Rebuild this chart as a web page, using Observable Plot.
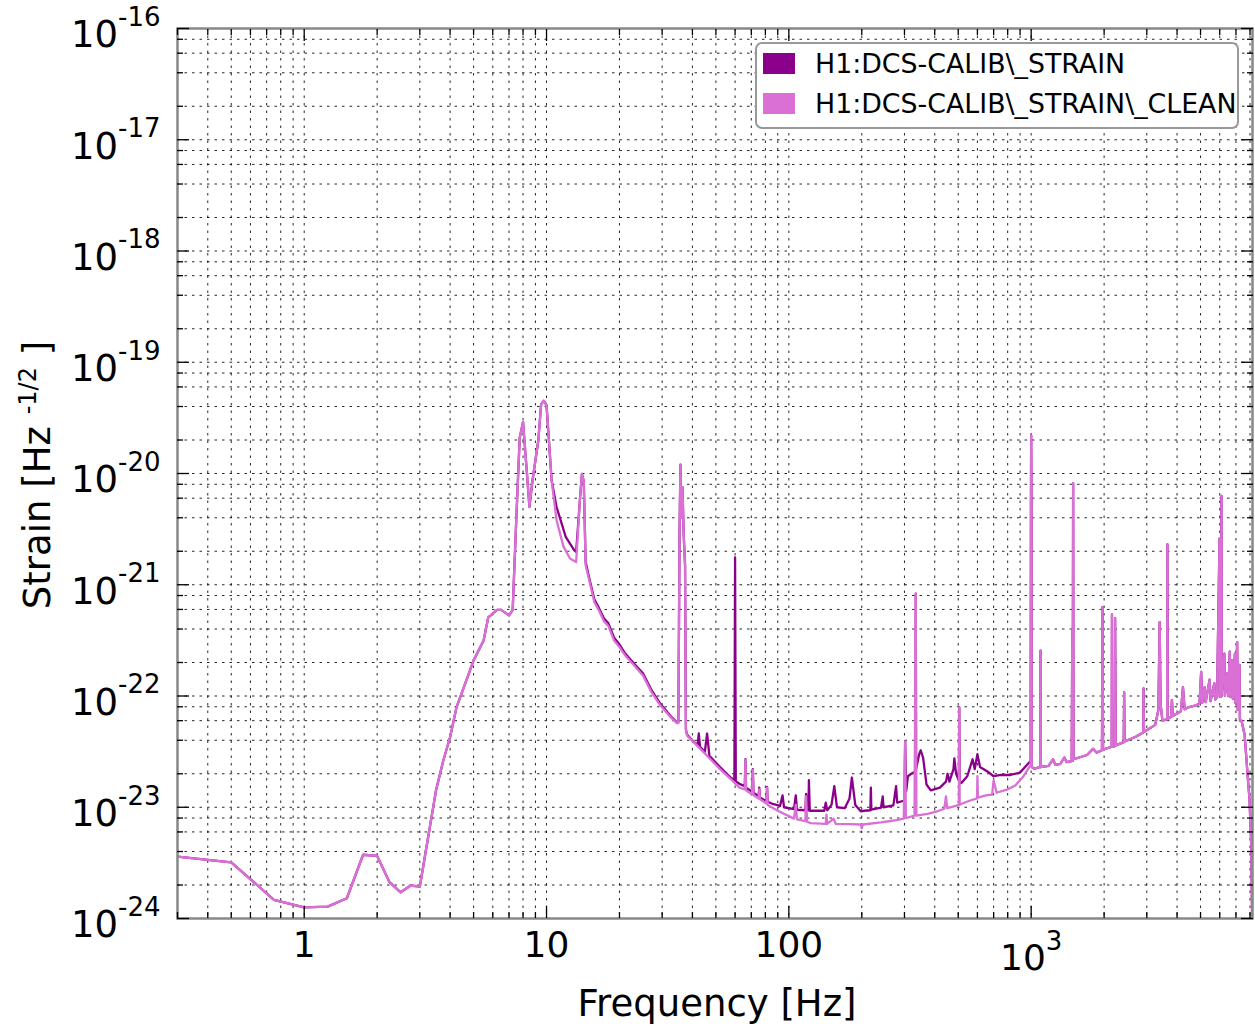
<!DOCTYPE html>
<html>
<head>
<meta charset="utf-8">
<script src="https://cdn.jsdelivr.net/npm/d3@7"></script>
<script src="https://cdn.jsdelivr.net/npm/@observablehq/plot@0.6"></script>
<style>
  html, body { margin: 0; padding: 0; background: #fff; }
  #chart svg { font-family: "DejaVu Sans", sans-serif; display: block; }
</style>
</head>
<body>
<div id="chart"></div>
<script>
// ---------------- data ----------------
const seriesNames = ["H1:DCS-CALIB\\_STRAIN", "H1:DCS-CALIB\\_STRAIN\\_CLEAN"];
const seriesColors = ["#8B008B", "#DA70D6"];

// shared by both channels, 0.3 – 10.5 Hz
const lowFreq = [0.3, 0.5, 0.75, 1.0, 1.25, 1.5, 1.75, 2.0, 2.25, 2.5, 2.75, 3.0, 3.5, 3.75, 4.0, 4.25, 4.75, 5.0, 5.5, 5.75, 6.25, 6.5, 7.0, 7.25, 7.5, 7.75, 8.0, 8.25, 8.5, 8.75, 9.25, 9.5, 9.75, 10.0, 10.5];
const lowAsd = [3.6e-24, 3.2e-24, 1.47e-24, 1.26e-24, 1.28e-24, 1.52e-24, 3.74e-24, 3.65e-24, 2.12e-24, 1.72e-24, 1.98e-24, 1.93e-24, 1.42e-23, 2.63e-23, 4.26e-23, 7.9e-23, 1.53e-22, 2.09e-22, 3.15e-22, 5.1e-22, 5.95e-22, 5.95e-22, 5.3e-22, 5.95e-22, 3.8e-21, 2.1e-20, 2.9e-20, 1.2e-20, 5.0e-21, 8.6e-21, 1.98e-20, 4.2e-20, 4.5e-20, 4.1e-20, 8.6e-21];

// H1:DCS-CALIB_STRAIN, 11 – 995 Hz
const strainMidFreq = [11.0, 12.0, 13.0, 13.25, 13.75, 14.0, 14.25, 14.5, 15.0, 15.75, 16.5, 17.25, 18.0, 19.0, 20.0, 21.0, 23.0, 25.0, 27.0, 29.5, 32.5, 34.5, 35.0, 35.4, 35.7, 36.0, 36.4, 36.8, 37.3, 37.6, 38.0, 40.0, 42.0, 42.5, 43.0, 45.0, 46.0, 47.0, 52.0, 57.5, 59.6, 60.0, 60.4, 62.5, 65.8, 66.2, 66.6, 70.5, 71.0, 71.5, 75.0, 75.5, 76.0, 80.8, 81.3, 81.8, 85.0, 92.0, 94.2, 95.5, 105.0, 106.8, 108.0, 117.0, 117.8, 119.0, 120.5, 121.0, 122.0, 140.0, 142.0, 144.0, 150.0, 154.0, 158.0, 170.0, 178.0, 182.0, 188.0, 198.0, 205.0, 217.0, 218.0, 219.0, 240.0, 244.0, 246.0, 270.0, 277.0, 280.0, 300.0, 302.0, 305.0, 310.0, 320.0, 333.0, 334.0, 335.0, 345.0, 350.0, 358.0, 370.0, 385.0, 420.0, 445.0, 452.0, 460.0, 478.0, 482.0, 490.0, 503.0, 505.0, 507.0, 515.0, 545.0, 573.0, 585.0, 600.0, 615.0, 660.0, 700.0, 750.0, 820.0, 900.0, 960.0, 995.0];
const strainMidAsd = [5.0e-21, 2.7e-21, 2.05e-21, 1.97e-21, 6.0e-21, 9.9e-21, 8.5e-21, 1.6e-21, 1.15e-21, 7.4e-22, 6.1e-22, 5.0e-22, 4.5e-22, 3.35e-22, 2.9e-22, 2.45e-22, 1.95e-22, 1.6e-22, 1.15e-22, 8.5e-23, 6.6e-23, 5.8e-23, 5.8e-23, 3.0e-21, 1.2e-20, 4.0e-21, 7.5e-21, 2.9e-21, 1.5e-21, 5.0e-23, 4.5e-23, 4.0e-23, 3.6e-23, 4.6e-23, 3.5e-23, 3.15e-23, 4.6e-23, 2.9e-23, 2.3e-23, 1.85e-23, 1.75e-23, 1.76e-21, 1.72e-23, 1.62e-23, 1.55e-23, 2.7e-23, 1.5e-23, 1.38e-23, 2.2e-23, 1.35e-23, 1.26e-23, 1.5e-23, 1.22e-23, 1.14e-23, 1.52e-23, 1.12e-23, 1.08e-23, 1.03e-23, 1.28e-23, 1.0e-23, 9.6e-24, 1.28e-23, 9.5e-24, 9.4e-24, 1.32e-23, 9.4e-24, 9.4e-24, 1.75e-23, 9.3e-24, 9.3e-24, 1.1e-23, 9.4e-24, 1.05e-23, 1.55e-23, 1.0e-23, 9.8e-24, 1.2e-23, 1.85e-23, 1.05e-23, 9.2e-24, 9.3e-24, 9.4e-24, 1.5e-23, 9.5e-24, 9.9e-24, 1.25e-23, 1.0e-23, 1.04e-23, 1.55e-23, 1.1e-23, 1.15e-23, 3.9e-23, 1.4e-23, 1.9e-23, 2.0e-23, 2.1e-23, 8.3e-22, 2.2e-23, 3.0e-23, 3.25e-23, 2.8e-23, 1.6e-23, 1.42e-23, 1.5e-23, 1.7e-23, 2.0e-23, 1.7e-23, 2.2e-23, 2.75e-23, 2.0e-23, 1.75e-23, 7.9e-23, 1.7e-23, 1.65e-23, 1.9e-23, 2.7e-23, 2.2e-23, 3.0e-23, 2.3e-23, 2.1e-23, 1.9e-23, 1.95e-23, 1.95e-23, 2.05e-23, 2.4e-23, 2.6e-23];

// H1:DCS-CALIB_STRAIN_CLEAN, 11 – 995 Hz
const cleanMidFreq = [11.0, 11.75, 12.5, 13.25, 13.75, 14.0, 14.25, 14.5, 15.0, 15.75, 16.5, 17.25, 18.0, 19.0, 20.0, 21.0, 23.0, 25.0, 27.0, 29.5, 32.5, 34.5, 35.0, 35.4, 35.7, 36.0, 36.4, 36.8, 37.3, 37.6, 38.0, 40.0, 45.0, 47.5, 52.0, 57.5, 62.5, 65.8, 66.2, 66.6, 70.5, 71.0, 71.5, 75.0, 75.5, 76.0, 80.8, 81.3, 81.8, 90.0, 105.0, 106.8, 108.0, 117.0, 117.8, 119.0, 123.0, 142.0, 143.0, 144.0, 153.0, 156.0, 175.0, 198.0, 200.0, 202.0, 240.0, 271.0, 298.0, 302.0, 304.0, 330.0, 334.0, 336.0, 373.0, 410.0, 438.0, 445.0, 450.0, 480.0, 503.0, 505.0, 507.0, 514.0, 560.0, 598.0, 600.0, 603.0, 650.0, 690.0, 700.0, 720.0, 800.0, 860.0, 930.0, 962.0, 995.0];
const cleanMidAsd = [3.8e-21, 2.2e-21, 1.72e-21, 1.6e-21, 6.0e-21, 9.9e-21, 8.5e-21, 1.5e-21, 1.1e-21, 7.0e-22, 5.8e-22, 4.7e-22, 4.25e-22, 3.15e-22, 2.75e-22, 2.35e-22, 1.88e-22, 1.53e-22, 1.1e-22, 8.2e-23, 6.45e-23, 5.7e-23, 5.7e-23, 3.0e-21, 1.2e-20, 4.0e-21, 7.5e-21, 2.9e-21, 1.5e-21, 5.0e-23, 4.4e-23, 3.95e-23, 3.05e-23, 2.7e-23, 2.2e-23, 1.8e-23, 1.5e-23, 1.45e-23, 2.67e-23, 1.42e-23, 1.3e-23, 2.17e-23, 1.28e-23, 1.2e-23, 1.45e-23, 1.18e-23, 1.08e-23, 1.5e-23, 1.05e-23, 9.3e-24, 7.9e-24, 1.05e-23, 7.8e-24, 7.5e-24, 1.25e-23, 7.4e-24, 7.2e-24, 7.1e-24, 8.6e-24, 7.1e-24, 7.9e-24, 7.1e-24, 7.05e-24, 7.0e-24, 6.5e-24, 7.0e-24, 7.3e-24, 7.6e-24, 7.9e-24, 3.9e-23, 8.0e-24, 8.4e-24, 8.3e-22, 8.4e-24, 8.7e-24, 9.2e-24, 9.7e-24, 1.25e-23, 9.8e-24, 1.02e-23, 1.05e-23, 7.9e-23, 1.05e-23, 1.07e-23, 1.15e-23, 1.2e-23, 1.9e-23, 1.22e-23, 1.28e-23, 1.3e-23, 1.75e-23, 1.35e-23, 1.45e-23, 1.57e-23, 1.9e-23, 2.13e-23, 2.4e-23];

// shared by both channels, 998 – 8192 Hz
const highFreq = [998, 1000, 1003, 1006, 1031, 1090, 1093, 1096, 1180, 1230, 1260, 1320, 1370, 1400, 1470, 1478, 1484, 1490, 1496, 1700, 1800, 1860, 1960, 1970, 1975, 1980, 2150, 2155, 2160, 2215, 2220, 2228, 2235, 2410, 2420, 2430, 2700, 2900, 2910, 2920, 3250, 3350, 3390, 3420, 3480, 3640, 3650, 3660, 3780, 3810, 3840, 4150, 4230, 4300, 4440, 4740, 4950, 5030, 5080, 5200, 5250, 5450, 5500, 5700, 5750, 5850, 5990, 6010, 6090, 6100, 6110, 6270, 6300, 6450, 6500, 6600, 6640, 6750, 6800, 6930, 6960, 7080, 7120, 7240, 7270, 7380, 7600, 7850, 7960, 8100, 8192];
const highAsd = [5e-21, 2.2e-20, 6e-21, 2.3e-23, 2.22e-23, 2.3e-23, 2.56e-22, 2.3e-23, 2.35e-23, 2.7e-23, 2.4e-23, 2.46e-23, 2.8e-23, 2.55e-23, 2.6e-23, 4.0e-22, 2.6e-23, 8.2e-21, 2.7e-23, 2.95e-23, 3.35e-23, 3.1e-23, 3.25e-23, 6.3e-22, 1.2e-22, 3.3e-23, 3.5e-23, 5.4e-22, 3.5e-23, 3.55e-23, 5.0e-22, 1.1e-22, 3.6e-23, 3.85e-23, 1.08e-22, 3.9e-23, 4.3e-23, 4.7e-23, 1.17e-22, 4.75e-23, 5.5e-23, 7.5e-23, 4.6e-22, 8.5e-23, 6.0e-23, 6.2e-23, 2.3e-21, 6.2e-23, 6.5e-23, 9.2e-23, 6.6e-23, 7.3e-23, 1.2e-22, 7.6e-23, 7.9e-23, 8.2e-23, 8.5e-23, 1.65e-22, 8.7e-23, 1.2e-22, 8.8e-23, 1.4e-22, 9.0e-23, 1.3e-22, 9.3e-23, 9.8e-23, 2.6e-21, 9.8e-23, 9.9e-23, 6.3e-21, 1.0e-22, 2.4e-22, 1.01e-22, 1.6e-22, 1.0e-22, 2.5e-22, 9.8e-23, 2.1e-22, 9.4e-23, 2.4e-22, 8.7e-23, 3.05e-22, 7.5e-23, 1.9e-22, 6.0e-23, 6.0e-23, 4.5e-23, 1.74e-23, 1.2e-23, 4.4e-24, 5e-25];

// axes
const xDomain = [0.3, 8192];
const yDomain = [1e-24, 1e-16];
const xMajor = [1, 10, 100, 1000];
const xTickLabels = ["1", "10", "100", "10^3"];
const yMajor = [1e-24, 1e-23, 1e-22, 1e-21, 1e-20, 1e-19, 1e-18, 1e-17, 1e-16];
const yTickLabels = ["10^-24", "10^-23", "10^-22", "10^-21", "10^-20", "10^-19", "10^-18", "10^-17", "10^-16"];
const xMinorMultipliers = [2, 3, 4, 5, 6, 7, 8, 9];
const yMinorMultipliers = [2, 4, 6, 8];
const xLabel = "Frequency [Hz]";
const yLabelMain = "Strain [Hz ";
const yLabelSup = "-1/2";
const yLabelEnd = " ]";

// ---------------- build tables ----------------
function toRows(fs, vs) { return fs.map((f, i) => ({f, v: vs[i]})); }
const strainRows = [...toRows(lowFreq, lowAsd), ...toRows(strainMidFreq, strainMidAsd), ...toRows(highFreq, highAsd)];
const cleanRows = [...toRows(lowFreq, lowAsd), ...toRows(cleanMidFreq, cleanMidAsd), ...toRows(highFreq, highAsd)];

const xMinor = [];
[0.1, 1, 10, 100, 1000].forEach(d => xMinorMultipliers.forEach(m => { const t = +(m * d).toPrecision(6); if (t >= xDomain[0] && t <= xDomain[1]) xMinor.push(t); }));
const yMinor = [];
yMajor.slice(0, -1).forEach(d => yMinorMultipliers.forEach(m => yMinor.push(+(m * d).toPrecision(6))));

const xLabelMap = new Map(xMajor.map((d, i) => [d, xTickLabels[i]]));
const yLabelMap = new Map(yMajor.map((d, i) => [d, yTickLabels[i]]));

const W = 1255, H = 1026;
const gridStyle = {stroke: "#000", strokeOpacity: 0.85, strokeWidth: 1, strokeDasharray: "2.5,5"};
const tickStyle = {stroke: "#000", strokeWidth: 1.3, tickFormat: () => ""};

const chart = Plot.plot({
  width: W,
  height: H,
  marginLeft: 177,
  marginRight: 3,
  marginTop: 28,
  marginBottom: 108,
  style: {fontFamily: "DejaVu Sans, sans-serif", background: "#fff", color: "#000"},
  x: {type: "log", domain: xDomain, label: null},
  y: {type: "log", domain: yDomain, label: null},
  marks: [
    Plot.gridX([...xMajor, ...xMinor], gridStyle),
    Plot.gridY([...yMajor, ...yMinor], gridStyle),
    Plot.line(strainRows, {x: "f", y: "v", stroke: seriesColors[0], strokeWidth: 2.3, clip: true}),
    Plot.line(cleanRows, {x: "f", y: "v", stroke: seriesColors[1], strokeWidth: 2.3, clip: true}),
    Plot.frame({stroke: "#888", strokeWidth: 2.5}),
    // inward tick marks on all four sides
    Plot.axisX(xMajor, {anchor: "bottom", tickSize: 12, dy: -12, ...tickStyle}),
    Plot.axisX(xMinor, {anchor: "bottom", tickSize: 6, dy: -6, ...tickStyle}),
    Plot.axisX(xMajor, {anchor: "top", tickSize: 12, dy: 12, ...tickStyle}),
    Plot.axisX(xMinor, {anchor: "top", tickSize: 6, dy: 6, ...tickStyle}),
    Plot.axisY(yMajor, {anchor: "left", tickSize: 12, dx: 12, ...tickStyle}),
    Plot.axisY(yMinor, {anchor: "left", tickSize: 6, dx: 6, ...tickStyle}),
    Plot.axisY(yMajor, {anchor: "right", tickSize: 12, dx: -12, ...tickStyle}),
    Plot.axisY(yMinor, {anchor: "right", tickSize: 6, dx: -6, ...tickStyle}),
    // tick labels
    Plot.axisX(xMajor, {anchor: "bottom", tickSize: 0, tickPadding: 13, fontSize: 36, tickFormat: d => xLabelMap.get(d)}),
    Plot.axisY(yMajor, {anchor: "left", tickSize: 0, tickPadding: 17, fontSize: 37, tickFormat: d => yLabelMap.get(d)})
  ]
});

document.getElementById("chart").appendChild(chart);

// ---------------- superscripts in tick labels ----------------
const svg = d3.select(chart.tagName.toLowerCase() === "svg" ? chart : chart.querySelector("svg"));
svg.selectAll("text").each(function () {
  const t = this.textContent;
  if (!t || !t.includes("^")) return;
  const [base, exp] = t.split("^");
  const isY = exp.startsWith("-");
  const sel = d3.select(this);
  sel.text(null);
  sel.append("tspan").attr("dy", isY ? 7 : 13).text(base);
  sel.append("tspan").attr("dy", isY ? -21.5 : -20).attr("font-size", 26).text(exp);
});

// ---------------- axis titles ----------------
svg.append("text")
  .attr("x", 717).attr("y", 1016)
  .attr("text-anchor", "middle")
  .attr("font-size", 37).attr("fill", "#000")
  .text(xLabel);

const yl = svg.append("text")
  .attr("transform", "translate(50,475) rotate(-90)")
  .attr("text-anchor", "middle")
  .attr("font-size", 37).attr("fill", "#000");
yl.append("tspan").text(yLabelMain);
yl.append("tspan").attr("dy", -14).attr("font-size", 24).text(yLabelSup);
yl.append("tspan").attr("dy", 14).text(yLabelEnd);

// ---------------- legend ----------------
const lg = svg.append("g").attr("class", "legend").attr("text-anchor", "start");
lg.append("rect").attr("x", 756).attr("y", 43).attr("width", 482).attr("height", 85)
  .attr("rx", 6).attr("fill", "#fff").attr("stroke", "#999").attr("stroke-width", 2);
seriesNames.forEach((name, i) => {
  lg.append("rect").attr("x", 763).attr("y", 53 + i * 40).attr("width", 32).attr("height", 21)
    .attr("fill", seriesColors[i]);
  lg.append("text").attr("x", 815).attr("y", 73 + i * 40)
    .attr("text-anchor", "start")
    .attr("font-size", 26.8).attr("fill", "#000").text(name);
});
</script>
</body>
</html>
